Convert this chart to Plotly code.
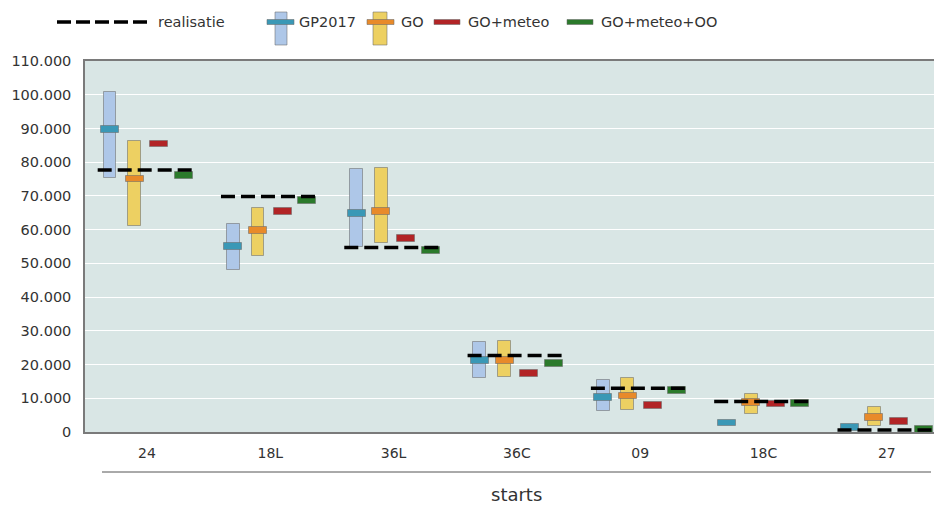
import plotly.graph_objects as go

# ---------------- data ----------------
categories = ["24", "18L", "36L", "36C", "09", "18C", "27"]
realisatie = [77700, 69800, 54700, 22700, 12950, 9050, 600]
gp2017_low = [75300, 48000, 55000, 16100, 6150, None, None]
gp2017_high = [100900, 61600, 77900, 26700, 15300, None, None]
gp2017_mid = [89700, 55100, 64800, 21300, 10150, 2700, 1300]
go_low = [61100, 52100, 55900, 16300, 6450, 5400, 1700]
go_high = [86300, 66500, 78400, 26900, 15900, 11300, 7300]
go_mid = [75000, 59700, 65300, 21300, 10700, 8800, 4300]
go_meteo = [85400, 65400, 57300, 17300, 7900, 8300, 3100]
go_meteo_oo = [76100, 68700, 53900, 20400, 12350, 8500, 700]
y_ticks = list(range(0, 110001, 10000))

# ---------------- styling ----------------
FONT = "DejaVu Sans"
TXT = "#333333"
BG = "#d9e6e5"
C_BLUE = "#aec7e8"
C_TEAL = "#3a98b6"
C_YEL = "#edd062"
C_ORA = "#e88a2a"
C_RED = "#b22426"
C_GRN = "#2b7a2b"
EDGE = dict(color="rgba(105,105,105,0.55)", width=1)
MARK_H = 2000          # height of the median markers (data units)
RANGE_W = 0.105        # width of range bars (category units)
MARK_W = 0.146         # width of marker bars
OFFS = [-0.3, -0.1, 0.1, 0.3]

W, H = 934, 506
ML, MR, MT, MB = 85, 0, 61, 74
PW, PH = W - ML - MR, H - MT - MB
CAT0_PX, CAT_STEP_PX = 147, 123.3

idx = list(range(len(categories)))


def px_x(p):
    return (p - ML) / PW


def px_y(p):
    return (H - MB - p) / PH


fig = go.Figure()


def range_bar(name, lo, hi, off, color):
    fig.add_trace(go.Bar(
        x=idx, base=lo,
        y=[None if (a is None or b is None) else b - a for a, b in zip(lo, hi)],
        offset=off - RANGE_W / 2, width=RANGE_W,
        marker=dict(color=color, line=EDGE), name=name, showlegend=False,
        hovertemplate="%{x}: %{base} – %{y}<extra>" + name + "</extra>"))


def marker_bar(name, vals, off, color):
    fig.add_trace(go.Bar(
        x=idx, base=[v - MARK_H / 2 for v in vals], y=[MARK_H] * len(vals),
        offset=off - MARK_W / 2, width=MARK_W,
        marker=dict(color=color, line=EDGE), name=name, showlegend=False,
        customdata=vals, hovertemplate="%{customdata}<extra>" + name + "</extra>"))


range_bar("GP2017", gp2017_low, gp2017_high, OFFS[0], C_BLUE)
range_bar("GO", go_low, go_high, OFFS[1], C_YEL)
marker_bar("GP2017", gp2017_mid, OFFS[0], C_TEAL)
marker_bar("GO", go_mid, OFFS[1], C_ORA)
marker_bar("GO+meteo", go_meteo, OFFS[2], C_RED)
marker_bar("GO+meteo+OO", go_meteo_oo, OFFS[3], C_GRN)

# realisatie dashed lines spanning each category group
rx, ry = [], []
for i, v in zip(idx, realisatie):
    rx += [i - 0.4, i + 0.4, None]
    ry += [v, v, None]
fig.add_trace(go.Scatter(x=rx, y=ry, mode="lines", name="realisatie", showlegend=False,
                         line=dict(color="black", width=3.5, dash="14px,6px")))

# ---------------- manual legend ----------------
shapes = []
annotations = []


def rect(x0, x1, y0, y1, color):
    shapes.append(dict(type="rect", xref="paper", yref="paper",
                       x0=px_x(x0), x1=px_x(x1), y0=px_y(y1), y1=px_y(y0),
                       fillcolor=color, line=EDGE, layer="above"))


def label(x, text):
    annotations.append(dict(text=text, xref="paper", yref="paper", x=px_x(x), y=px_y(22),
                            xanchor="left", yanchor="middle", showarrow=False,
                            font=dict(family=FONT, size=14.5, color=TXT)))


shapes.append(dict(type="line", xref="paper", yref="paper", x0=px_x(57), x1=px_x(151),
                   y0=px_y(22), y1=px_y(22),
                   line=dict(color="black", width=3.5, dash="14px,5px")))
label(156, "realisatie")
rect(275, 287, 12, 45, C_BLUE)
rect(267, 294, 19.5, 24.5, C_TEAL)
label(297, "GP2017")
rect(373, 387, 12, 45, C_YEL)
rect(367, 394, 19.5, 24.5, C_ORA)
label(399, "GO")
rect(434, 460, 19.5, 24.5, C_RED)
label(466, "GO+meteo")
rect(567, 593, 19.5, 24.5, C_GRN)
label(599, "GO+meteo+OO")

# lower grouping line and axis title
shapes.append(dict(type="line", xref="paper", yref="paper", x0=px_x(102), x1=px_x(931),
                   y0=px_y(472), y1=px_y(472), line=dict(color="#555555", width=1)))
annotations.append(dict(text="starts", xref="paper", yref="paper", x=px_x(516), y=px_y(494),
                        xanchor="center", yanchor="middle", showarrow=False,
                        font=dict(family=FONT, size=18, color=TXT)))

fig.update_layout(
    width=W, height=H, autosize=False,
    margin=dict(l=ML, r=MR, t=MT, b=MB, pad=0),
    paper_bgcolor="white", plot_bgcolor=BG,
    barmode="overlay", bargap=0,
    separators=",.",
    font=dict(family=FONT, size=14, color=TXT),
    shapes=shapes, annotations=annotations,
    showlegend=False,
)
fig.update_xaxes(
    type="linear",
    range=[(ML - CAT0_PX) / CAT_STEP_PX, (W - CAT0_PX) / CAT_STEP_PX],
    tickvals=idx, ticktext=categories, showgrid=False, zeroline=False,
    showline=True, linecolor="#7a7a7a", linewidth=1.5, mirror=True,
    ticks="", ticklabelstandoff=7, tickfont=dict(family=FONT, size=14, color=TXT),
)
fig.update_yaxes(
    range=[0, 110000], tickvals=y_ticks, tickformat=",d",
    showgrid=True, gridcolor="white", gridwidth=1.3, zeroline=False,
    showline=True, linecolor="#7a7a7a", linewidth=1.5,
    ticks="", ticklabelstandoff=9, tickfont=dict(family=FONT, size=14.5, color=TXT),
)

fig.write_html("out.html", config={"displayModeBar": False},
               post_script="document.body.style.margin='0';document.body.style.overflow='hidden';")
